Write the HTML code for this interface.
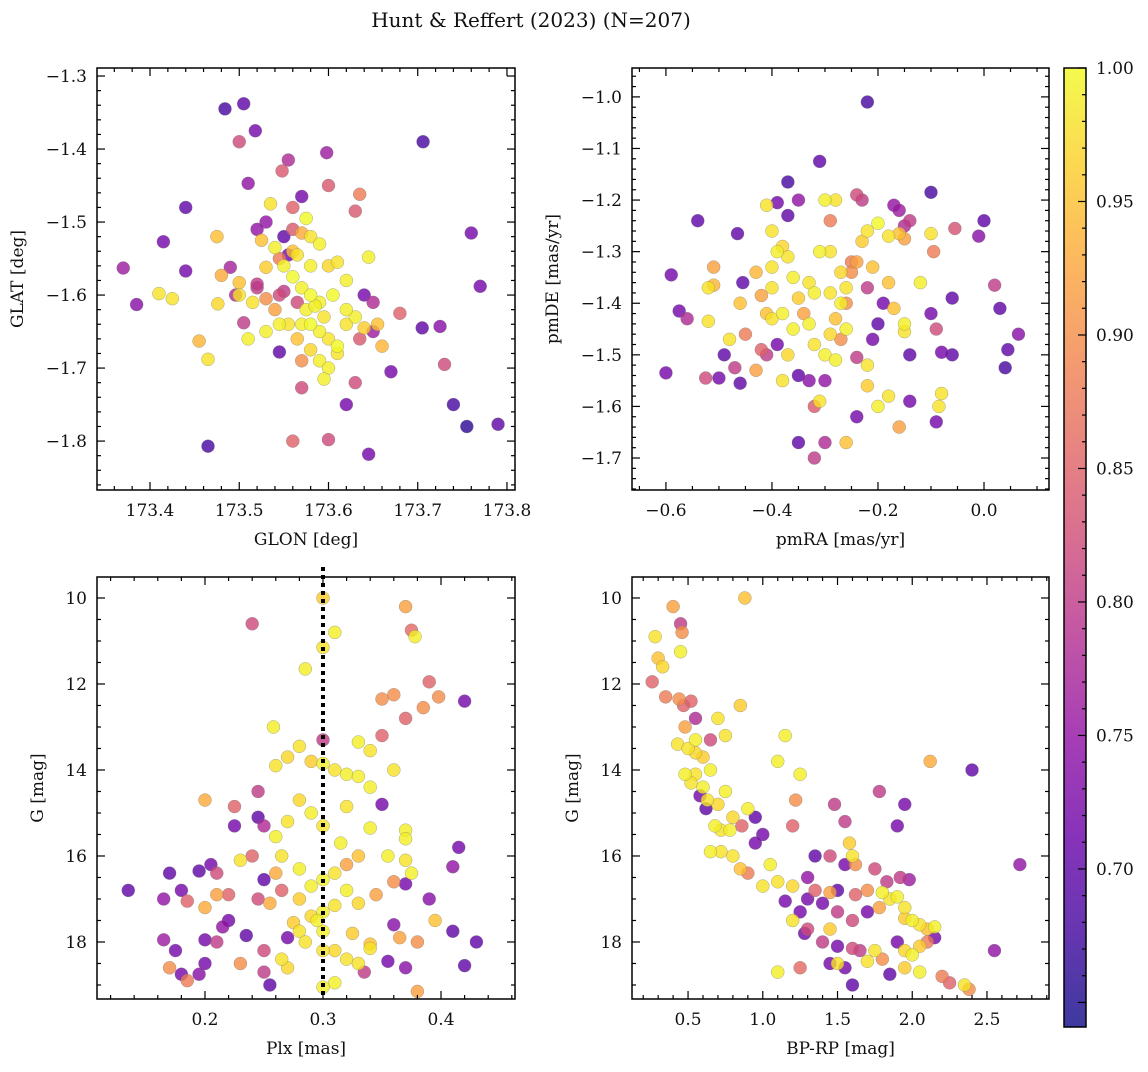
<!DOCTYPE html>
<html><head><meta charset="utf-8"><style>
body{margin:0;background:#fff;}
svg text{font-family:"DejaVu Serif","Liberation Serif",serif;fill:#111;}
</style></head><body>
<svg id="fig" width="1148" height="1067" xmlns="http://www.w3.org/2000/svg">
<defs>
<linearGradient id="plasma" x1="0" y1="1" x2="0" y2="0">
<stop offset="0" stop-color="#0d0887"/><stop offset="0.1" stop-color="#41049d"/><stop offset="0.2" stop-color="#6a00a8"/><stop offset="0.3" stop-color="#8f0da4"/><stop offset="0.4" stop-color="#b12a90"/><stop offset="0.5" stop-color="#cc4778"/><stop offset="0.6" stop-color="#e16462"/><stop offset="0.7" stop-color="#f2844b"/><stop offset="0.8" stop-color="#fca636"/><stop offset="0.9" stop-color="#fcce25"/><stop offset="1" stop-color="#f0f921"/>
</linearGradient>
</defs>
<text x="531" y="27" font-size="20" text-anchor="middle">Hunt &amp; Reffert (2023) (N=207)</text>
</svg>
<script>
const p1=[[173.484,-1.345,0.68],[173.505,-1.338,0.7],[173.518,-1.375,0.72],[173.50,-1.39,0.82],[173.598,-1.405,0.76],[173.706,-1.39,0.68],[173.555,-1.415,0.78],[173.548,-1.43,0.84],[173.51,-1.447,0.75],[173.44,-1.48,0.7],[173.415,-1.527,0.72],[173.37,-1.563,0.76],[173.385,-1.613,0.74],[173.41,-1.598,0.98],[173.425,-1.605,0.98],[173.44,-1.567,0.72],[173.475,-1.52,0.95],[173.49,-1.562,0.77],[173.48,-1.573,0.93],[173.455,-1.663,0.94],[173.465,-1.688,0.98],[173.476,-1.612,0.97],[173.496,-1.6,0.78],[173.5,-1.583,0.95],[173.505,-1.638,0.8],[173.51,-1.66,0.99],[173.52,-1.59,0.8],[173.53,-1.605,0.9],[173.53,-1.65,0.99],[173.545,-1.55,0.88],[173.55,-1.52,0.7],[173.56,-1.48,0.85],[173.56,-1.51,0.84],[173.57,-1.515,0.93],[173.575,-1.495,1.0],[173.58,-1.52,0.98],[173.6,-1.45,0.84],[173.63,-1.485,0.84],[173.635,-1.462,0.88],[173.59,-1.53,0.99],[173.535,-1.475,0.98],[173.525,-1.525,0.95],[173.54,-1.535,0.99],[173.55,-1.56,0.99],[173.56,-1.575,1.0],[173.57,-1.59,0.99],[173.58,-1.6,1.0],[173.59,-1.61,0.99],[173.6,-1.56,0.97],[173.61,-1.555,0.98],[173.62,-1.58,0.99],[173.645,-1.548,0.99],[173.56,-1.54,0.95],[173.55,-1.595,0.8],[173.565,-1.61,0.82],[173.575,-1.62,0.99],[173.58,-1.64,1.0],[173.59,-1.65,0.99],[173.6,-1.66,0.98],[173.61,-1.67,1.0],[173.62,-1.64,0.98],[173.63,-1.63,0.99],[173.64,-1.6,0.72],[173.65,-1.61,0.78],[173.655,-1.64,0.95],[173.66,-1.67,0.94],[173.67,-1.705,0.72],[173.68,-1.625,0.85],[173.705,-1.645,0.7],[173.725,-1.643,0.74],[173.73,-1.695,0.82],[173.74,-1.75,0.68],[173.755,-1.78,0.66],[173.76,-1.515,0.72],[173.77,-1.588,0.72],[173.79,-1.777,0.7],[173.62,-1.75,0.72],[173.645,-1.818,0.72],[173.6,-1.798,0.82],[173.56,-1.8,0.85],[173.57,-1.727,0.82],[173.63,-1.72,0.82],[173.545,-1.678,0.7],[173.465,-1.807,0.68],[173.57,-1.69,0.9],[173.58,-1.675,0.97],[173.59,-1.69,0.99],[173.6,-1.7,0.99],[173.61,-1.68,0.98],[173.595,-1.715,0.99],[173.555,-1.64,0.98],[173.565,-1.66,0.95],[173.57,-1.64,0.99],[173.585,-1.615,0.99],[173.595,-1.63,0.98],[173.605,-1.6,1.0],[173.62,-1.62,0.99],[173.635,-1.66,0.84],[173.64,-1.645,0.96],[173.565,-1.545,0.98],[173.58,-1.56,0.99],[173.53,-1.562,0.96],[173.515,-1.61,0.98],[173.54,-1.62,0.92],[173.545,-1.6,0.82],[173.545,-1.64,0.99],[173.52,-1.585,0.8],[173.5,-1.6,0.98],[173.53,-1.5,0.75],[173.52,-1.51,0.75],[173.57,-1.465,0.72],[173.555,-1.545,0.72],[173.65,-1.65,0.76]];
const p2=[[-0.22,-1.01,0.68],[-0.31,-1.125,0.7],[-0.1,-1.185,0.68],[-0.37,-1.165,0.68],[0.0,-1.24,0.7],[-0.54,-1.24,0.7],[-0.465,-1.265,0.7],[-0.39,-1.205,0.72],[-0.35,-1.2,0.75],[-0.59,-1.345,0.72],[-0.575,-1.415,0.72],[-0.56,-1.43,0.78],[-0.6,-1.535,0.72],[-0.51,-1.33,0.92],[-0.52,-1.37,0.98],[-0.51,-1.365,0.94],[-0.52,-1.435,0.98],[-0.525,-1.545,0.82],[-0.5,-1.545,0.72],[-0.48,-1.47,0.98],[-0.49,-1.5,0.7],[-0.47,-1.525,0.8],[-0.46,-1.555,0.7],[-0.46,-1.4,0.95],[-0.455,-1.36,0.7],[-0.45,-1.46,0.88],[-0.43,-1.34,0.94],[-0.42,-1.385,0.92],[-0.41,-1.42,0.95],[-0.4,-1.37,0.98],[-0.4,-1.33,0.98],[-0.39,-1.3,0.99],[-0.38,-1.29,0.97],[-0.37,-1.31,0.98],[-0.36,-1.35,0.99],[-0.35,-1.39,0.96],[-0.34,-1.42,0.92],[-0.33,-1.44,0.99],[-0.32,-1.48,0.98],[-0.3,-1.5,0.99],[-0.29,-1.46,0.97],[-0.28,-1.43,0.95],[-0.27,-1.4,0.99],[-0.26,-1.37,0.98],[-0.25,-1.34,0.9],[-0.24,-1.32,0.92],[-0.23,-1.28,0.96],[-0.22,-1.26,0.98],[-0.2,-1.245,1.0],[-0.18,-1.27,0.98],[-0.16,-1.265,0.95],[-0.15,-1.275,0.92],[-0.14,-1.24,0.8],[-0.17,-1.21,0.75],[-0.16,-1.22,0.76],[-0.15,-1.25,0.78],[-0.1,-1.265,0.98],[-0.095,-1.3,0.88],[-0.12,-1.36,0.99],[-0.1,-1.42,0.72],[-0.09,-1.45,0.82],[-0.08,-1.495,0.72],[-0.06,-1.5,0.7],[-0.06,-1.39,0.7],[-0.055,-1.255,0.83],[-0.01,-1.27,0.74],[0.04,-1.525,0.68],[0.045,-1.49,0.7],[0.065,-1.46,0.74],[0.03,-1.41,0.7],[0.02,-1.365,0.8],[-0.08,-1.575,0.98],[-0.085,-1.6,0.98],[-0.09,-1.63,0.72],[-0.14,-1.5,0.7],[-0.15,-1.455,0.98],[-0.15,-1.44,0.99],[-0.17,-1.41,0.95],[-0.18,-1.36,0.95],[-0.19,-1.4,0.72],[-0.2,-1.44,0.7],[-0.21,-1.47,0.72],[-0.22,-1.52,0.98],[-0.22,-1.56,0.96],[-0.24,-1.505,0.8],[-0.26,-1.45,0.99],[-0.27,-1.47,0.9],[-0.28,-1.51,0.99],[-0.3,-1.55,0.75],[-0.31,-1.59,0.98],[-0.32,-1.6,0.84],[-0.33,-1.55,0.74],[-0.35,-1.67,0.7],[-0.3,-1.67,0.78],[-0.26,-1.67,0.95],[-0.32,-1.7,0.8],[-0.24,-1.62,0.72],[-0.2,-1.6,0.99],[-0.18,-1.58,0.98],[-0.16,-1.64,0.92],[-0.14,-1.59,0.72],[-0.38,-1.55,0.98],[-0.37,-1.5,0.97],[-0.39,-1.48,0.72],[-0.41,-1.5,0.8],[-0.42,-1.49,0.85],[-0.43,-1.53,0.92],[-0.35,-1.54,0.7],[-0.36,-1.45,0.99],[-0.38,-1.42,0.99],[-0.4,-1.43,0.98],[-0.4,-1.26,0.98],[-0.41,-1.21,0.98],[-0.37,-1.23,0.7],[-0.3,-1.2,0.99],[-0.28,-1.2,0.98],[-0.24,-1.19,0.82],[-0.23,-1.2,0.8],[-0.29,-1.24,0.88],[-0.31,-1.3,0.99],[-0.29,-1.3,0.98],[-0.27,-1.34,0.97],[-0.25,-1.32,0.88],[-0.26,-1.4,0.9],[-0.29,-1.38,0.98],[-0.32,-1.38,0.99],[-0.33,-1.36,0.98],[-0.22,-1.37,0.8],[-0.21,-1.33,0.95]];
const p3=[[0.30,10.0,0.96],[0.37,10.2,0.92],[0.31,10.8,0.99],[0.375,10.75,0.86],[0.378,10.9,0.99],[0.24,10.6,0.82],[0.3,11.15,0.98],[0.285,11.65,0.99],[0.39,11.95,0.85],[0.398,12.3,0.9],[0.36,12.25,0.9],[0.35,12.35,0.9],[0.42,12.4,0.72],[0.385,12.55,0.9],[0.37,12.8,0.85],[0.258,13.0,0.99],[0.3,13.3,0.8],[0.33,13.35,0.99],[0.34,13.55,0.98],[0.35,13.2,0.85],[0.28,13.45,0.98],[0.27,13.7,0.97],[0.26,13.9,0.98],[0.29,13.8,0.96],[0.3,13.85,0.99],[0.31,14.0,0.98],[0.32,14.1,0.99],[0.33,14.15,0.99],[0.34,14.4,0.99],[0.36,14.0,0.98],[0.35,14.8,0.72],[0.245,14.5,0.8],[0.2,14.7,0.93],[0.225,14.85,0.85],[0.225,15.3,0.72],[0.245,15.1,0.7],[0.25,15.3,0.78],[0.26,15.55,0.99],[0.27,15.2,0.98],[0.28,14.7,0.97],[0.29,15.0,0.99],[0.3,15.3,0.98],[0.315,15.7,0.99],[0.32,14.85,0.98],[0.34,15.35,0.99],[0.37,15.4,0.99],[0.37,15.6,0.99],[0.37,16.1,0.98],[0.375,16.4,0.99],[0.41,16.25,0.75],[0.415,15.8,0.72],[0.355,16.0,0.99],[0.33,16.0,0.95],[0.32,16.2,0.92],[0.31,16.4,0.98],[0.3,16.55,0.99],[0.28,16.3,0.99],[0.265,16.0,0.98],[0.26,16.4,0.93],[0.25,16.55,0.7],[0.24,16.0,0.85],[0.23,16.1,0.98],[0.21,16.4,0.82],[0.205,16.2,0.72],[0.195,16.35,0.7],[0.17,16.4,0.7],[0.18,16.8,0.72],[0.185,17.05,0.85],[0.165,17.0,0.75],[0.2,17.2,0.93],[0.21,16.9,0.92],[0.22,16.9,0.85],[0.245,17.0,0.82],[0.255,17.1,0.93],[0.265,16.8,0.85],[0.28,17.0,0.96],[0.29,16.7,0.99],[0.3,17.3,0.99],[0.31,17.15,0.98],[0.32,16.8,0.99],[0.33,17.1,0.97],[0.345,16.9,0.92],[0.36,16.6,0.9],[0.37,16.65,0.72],[0.39,17.0,0.74],[0.395,17.5,0.95],[0.41,17.75,0.7],[0.43,18.0,0.7],[0.42,18.55,0.7],[0.38,19.15,0.92],[0.37,18.6,0.74],[0.365,17.9,0.92],[0.355,18.45,0.72],[0.34,18.05,0.95],[0.335,18.7,0.8],[0.32,18.4,0.98],[0.31,18.2,0.97],[0.3,17.75,0.99],[0.295,17.5,0.99],[0.28,17.75,0.98],[0.275,17.55,0.96],[0.27,17.9,0.72],[0.265,18.4,0.98],[0.27,18.6,0.97],[0.25,18.2,0.82],[0.25,18.7,0.8],[0.255,19.0,0.7],[0.235,17.85,0.7],[0.23,18.5,0.9],[0.22,17.5,0.72],[0.215,17.65,0.75],[0.21,18.0,0.8],[0.2,17.95,0.72],[0.2,18.5,0.72],[0.195,18.75,0.74],[0.185,18.9,0.88],[0.18,18.75,0.72],[0.17,18.6,0.9],[0.165,17.95,0.76],[0.175,18.2,0.72],[0.135,16.8,0.7],[0.3,18.2,0.98],[0.31,18.95,0.99],[0.3,19.05,0.99],[0.33,18.5,0.98],[0.34,18.15,0.98],[0.36,17.6,0.74],[0.38,18.0,0.9],[0.325,17.8,0.96],[0.29,17.4,0.97],[0.285,18.0,0.98]];
const p4=[[0.26,11.95,0.85],[0.28,10.9,0.98],[0.3,11.4,0.95],[0.33,11.6,0.97],[0.4,10.2,0.92],[0.45,10.6,0.8],[0.46,10.8,0.9],[0.45,11.25,0.99],[0.88,10.0,0.95],[0.35,12.3,0.88],[0.44,12.35,0.9],[0.47,12.5,0.85],[0.52,12.4,0.85],[0.55,12.8,0.78],[0.85,12.5,0.96],[0.7,12.8,0.98],[0.48,13.0,0.92],[0.55,13.3,0.99],[0.65,13.3,0.82],[0.75,13.2,0.98],[0.43,13.4,0.98],[0.5,13.5,0.98],[0.55,13.6,0.97],[0.6,13.7,0.96],[0.65,14.0,0.99],[0.55,14.1,0.98],[0.48,14.1,0.99],[0.52,14.3,0.98],[0.6,14.4,0.99],[0.63,14.7,0.98],[0.7,14.8,0.97],[0.75,14.5,0.99],[0.58,14.6,0.72],[0.62,14.9,0.7],[0.68,15.3,0.99],[0.72,15.4,0.98],[0.78,15.4,0.99],[0.8,15.1,0.97],[0.86,15.3,0.85],[0.9,14.9,0.99],[0.95,15.1,0.7],[1.0,15.5,0.72],[1.1,13.8,0.99],[1.15,13.2,0.99],[1.25,14.1,0.99],[1.22,14.7,0.9],[1.2,15.3,0.85],[1.48,14.8,0.8],[1.55,15.2,0.8],[1.78,14.5,0.8],[1.95,14.8,0.72],[1.9,15.3,0.72],[2.12,13.8,0.93],[2.4,14.0,0.7],[2.72,16.2,0.75],[0.65,15.9,0.99],[0.72,15.9,0.98],[0.8,16.0,0.98],[0.85,16.3,0.95],[0.9,16.4,0.88],[0.95,15.7,0.72],[1.05,16.2,0.99],[1.1,16.6,0.98],[1.2,16.7,0.97],[1.3,16.5,0.75],[1.35,16.0,0.7],[1.45,16.0,0.82],[1.58,15.7,0.96],[1.6,16.0,0.98],[1.62,16.2,0.9],[1.55,16.2,0.72],[1.75,16.3,0.82],[1.83,16.6,0.8],[1.92,16.5,0.8],[1.98,16.55,0.76],[1.0,16.7,0.98],[1.15,17.05,0.72],[1.3,17.0,0.72],[1.35,16.8,0.85],[1.45,16.85,0.92],[1.5,16.8,0.7],[1.62,16.9,0.85],[1.7,16.8,0.9],[1.8,16.85,0.99],[1.85,17.0,0.98],[1.9,16.95,0.99],[1.95,17.2,0.98],[2.0,17.5,0.99],[2.05,17.6,0.98],[2.1,17.7,0.95],[2.15,17.65,0.99],[1.95,17.45,0.96],[1.78,17.2,0.92],[1.7,17.3,0.72],[1.6,17.5,0.82],[1.5,17.3,0.8],[1.4,17.1,0.72],[1.25,17.3,0.72],[1.2,17.5,0.98],[1.3,17.7,0.82],[1.4,18.0,0.8],[1.5,18.1,0.72],[1.6,18.15,0.82],[1.65,18.2,0.8],[1.75,18.2,0.98],[1.8,18.4,0.9],[1.85,18.75,0.7],[1.9,18.0,0.72],[1.95,18.2,0.97],[2.0,18.3,0.99],[2.05,18.1,0.96],[2.1,18.0,0.88],[2.15,17.9,0.72],[2.2,18.8,0.88],[2.25,18.95,0.85],[2.35,19.0,0.98],[2.38,19.1,0.9],[2.55,18.2,0.75],[1.1,18.7,0.99],[1.25,18.6,0.86],[1.45,18.5,0.72],[1.55,18.6,0.72],[1.6,19.0,0.7],[1.5,18.5,0.98],[1.7,18.45,0.98],[1.95,18.6,0.96],[2.05,18.7,0.99],[1.28,17.8,0.72],[1.45,17.7,0.96]];
const cbTicks=[0.70,0.75,0.80,0.85,0.90,0.95,1.00];
const plxCut=0.3;
const VMIN=0.6408,VMAX=1.0;
const NS="http://www.w3.org/2000/svg";
const svg=document.getElementById('fig');
const stops=[[13,8,135],[65,4,157],[106,0,168],[143,13,164],[177,42,144],[204,71,120],[225,100,98],[242,132,75],[252,166,54],[252,206,37],[240,249,33]];
function cmap(v){let t=Math.max(0,Math.min(1,(v-VMIN)/(VMAX-VMIN)))*10;let i=Math.min(9,Math.floor(t)),f=t-i;const a=stops[i],b=stops[i+1];return 'rgb('+[0,1,2].map(k=>Math.round(a[k]+(b[k]-a[k])*f)).join(',')+')';}
function el(tag,at,parent){const e=document.createElementNS(NS,tag);for(const k in at)e.setAttribute(k,at[k]);(parent||svg).appendChild(e);return e;}
function fmt(v,d){return (v<0?'\u2212':'')+Math.abs(v).toFixed(d);}
function panel(o){
 const g=el('g',{});
 
 
 const X=v=>o.L+(v-o.x0)/(o.x1-o.x0)*(o.R-o.L);
 const Y=v=>o.B-(v-o.y0)/(o.y1-o.y0)*(o.B-o.T);
 const pts=o.data.slice().sort((a,b)=>a[2]-b[2]);
 pts.forEach(d=>{const c=el('circle',{cx:X(d[0]),cy:Y(d[1]),r:6.5,fill:cmap(d[2]),'fill-opacity':0.8,stroke:'#777','stroke-opacity':0.6,'stroke-width':0.5},g);
  
  });
 if(o.vline!==undefined){const l=el('line',{x1:X(o.vline),x2:X(o.vline),y1:o.T-10,y2:o.B,stroke:'#000','stroke-width':4,'stroke-dasharray':'4,4'},g);
  
  }
 const fr=el('rect',{x:o.L,y:o.T,width:o.R-o.L,height:o.B-o.T,fill:'none',stroke:'#000','stroke-width':1.5},g);
 
 
 const eps=1e-9;
 const xa=Math.min(o.x0,o.x1),xb=Math.max(o.x0,o.x1),ya=Math.min(o.y0,o.y1),yb=Math.max(o.y0,o.y1);
 for(let k=Math.ceil(xa/o.xmin-eps);k*o.xmin<=xb+eps;k++){const v=k*o.xmin;const px=X(v);const maj=Math.abs(v/o.xmaj-Math.round(v/o.xmaj))<1e-6;const len=maj?8:4;
  el('line',{x1:px,x2:px,y1:o.B,y2:o.B-len,stroke:'#000','stroke-width':1.2},g);el('line',{x1:px,x2:px,y1:o.T,y2:o.T+len,stroke:'#000','stroke-width':1.2},g);
  if(maj){const t=el('text',{x:px,y:o.B+26,'font-size':17,'text-anchor':'middle'},g);t.textContent=fmt(Math.round(v/o.xmaj)*o.xmaj,o.xd);
   
   }}
 for(let k=Math.ceil(ya/o.ymin-eps);k*o.ymin<=yb+eps;k++){const v=k*o.ymin;const py=Y(v);const maj=Math.abs(v/o.ymaj-Math.round(v/o.ymaj))<1e-6;const len=maj?8:4;
  el('line',{x1:o.L,x2:o.L+len,y1:py,y2:py,stroke:'#000','stroke-width':1.2},g);el('line',{x1:o.R,x2:o.R-len,y1:py,y2:py,stroke:'#000','stroke-width':1.2},g);
  if(maj){const t=el('text',{x:o.L-10,y:py+6,'font-size':17,'text-anchor':'end'},g);t.textContent=fmt(Math.round(v/o.ymaj)*o.ymaj,o.yd);
   
   }}
 const xt=el('text',{x:(o.L+o.R)/2,y:o.B+55,'font-size':17,'text-anchor':'middle'},g);xt.textContent=o.xl;
 
 
 const lx=o.L-o.yo;const cy=(o.T+o.B)/2;const yt=el('text',{x:lx,y:cy,'font-size':17,'text-anchor':'middle',transform:'rotate(-90 '+lx+' '+cy+')'},g);yt.textContent=o.yl;
 
 
}
panel({name:'sky-position-panel',data:p1,L:97,R:515,T:68,B:490,x0:173.3406,x1:173.809,y0:-1.867,y1:-1.289,xmaj:0.1,xmin:0.02,ymaj:0.1,ymin:0.02,xd:1,yd:1,xl:'GLON [deg]',yl:'GLAT [deg]',yo:74});
panel({name:'proper-motion-panel',data:p2,L:632,R:1049,T:68,B:490,x0:-0.664,x1:0.1226,y0:-1.762,y1:-0.944,xmaj:0.2,xmin:0.05,ymaj:0.1,ymin:0.02,xd:1,yd:1,xl:'pmRA [mas/yr]',yl:'pmDE [mas/yr]',yo:74});
panel({name:'parallax-magnitude-panel',data:p3,L:97,R:515,T:577,B:999,x0:0.1085,x1:0.4627,y0:19.326,y1:9.512,xmaj:0.1,xmin:0.02,ymaj:2,ymin:0.5,xd:1,yd:0,xl:'Plx [mas]',yl:'G [mag]',vline:plxCut,yo:54});
panel({name:'color-magnitude-panel',data:p4,L:632,R:1049,T:577,B:999,x0:0.125,x1:2.915,y0:19.326,y1:9.512,xmaj:0.5,xmin:0.1,ymaj:2,ymin:0.5,xd:1,yd:0,xl:'BP-RP [mag]',yl:'G [mag]',yo:54});
const cb=el('g',{});


const CT=68,CB=1027,CL=1064,CR=1086;
el('rect',{x:CL,y:CT,width:CR-CL,height:CB-CT,fill:'url(#plasma)','fill-opacity':0.8},cb);
el('rect',{x:CL,y:CT,width:CR-CL,height:CB-CT,fill:'none',stroke:'#000','stroke-width':1.5},cb);
const CY=v=>CB-(v-VMIN)/(VMAX-VMIN)*(CB-CT);
for(let k=65;k<=100;k++){const v=k/100;const maj=k%5===0;el('line',{x1:CR,x2:CR-(maj?8:4),y1:CY(v),y2:CY(v),stroke:'#000','stroke-width':1.2},cb);}
cbTicks.forEach(v=>{const t=el('text',{x:CR+10,y:CY(v)+6,'font-size':17},cb);t.textContent=v.toFixed(2);
 
 });
</script>
</body></html>
